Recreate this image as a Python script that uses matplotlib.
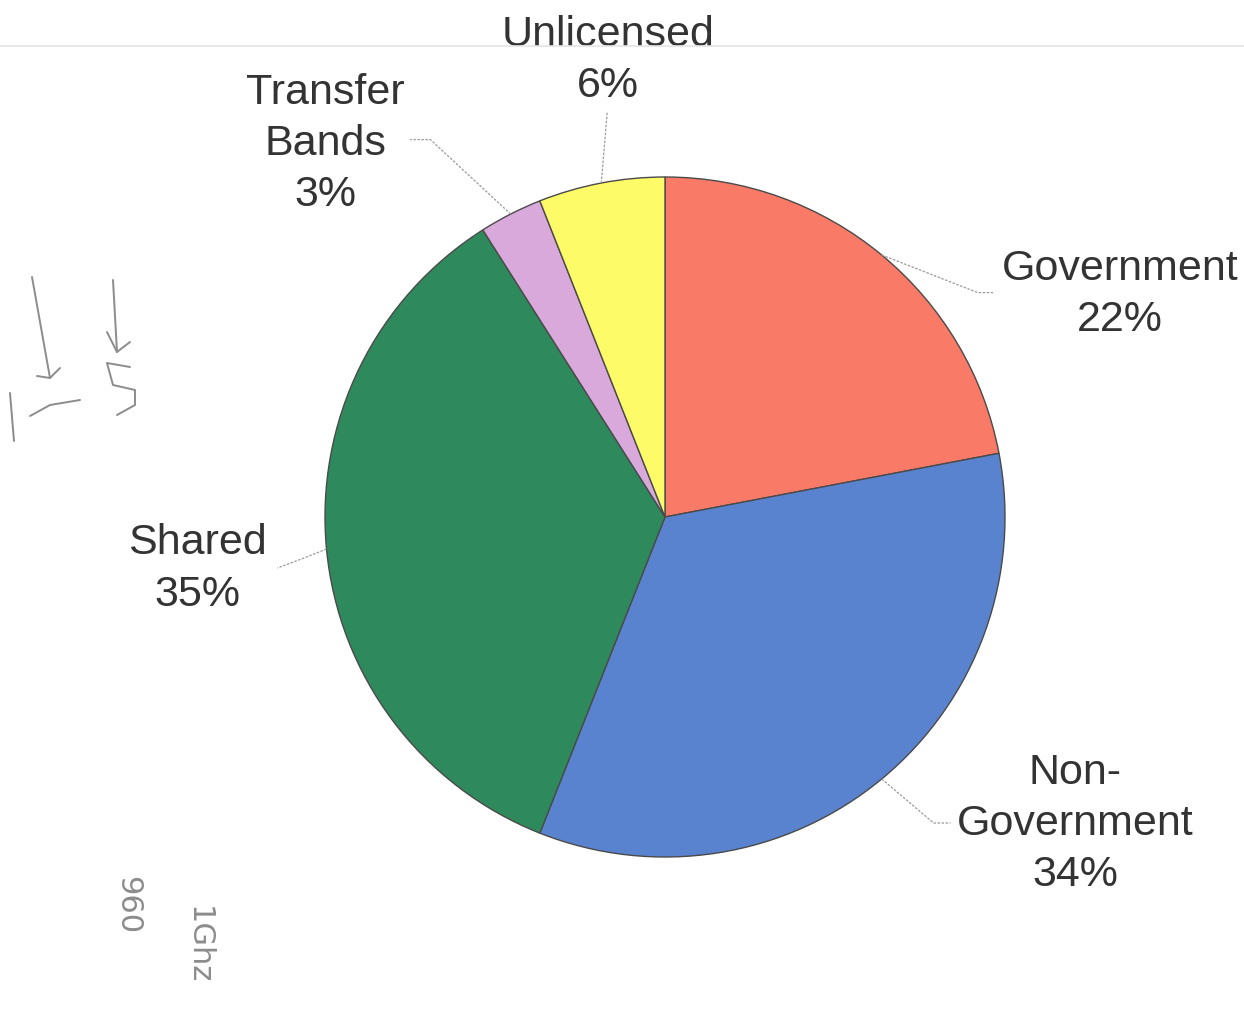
import numpy as np
import matplotlib
matplotlib.use("Agg")
import matplotlib.pyplot as plt

# Spectrum allocation shares (percent), clockwise from 12 o'clock
categories = ["Government", "Non-\nGovernment", "Shared", "Transfer\nBands", "Unlicensed"]
shares = [22, 34, 35, 3, 6]
colors = ["#FA7A68", "#5A83CF", "#2E8A5C", "#D9A9DC", "#FDFB68"]

# Label anchor (data units, pie radius = 1) and elbow/end of each leader line
label_pos = [(1.338, 0.655), (1.206, -0.903), (-1.374, -0.153), (-1.0, 1.097), (-0.168, 1.343)]
elbows = [(0.92, 0.66), (0.79, -0.90), (-1.06, -0.12), (-0.69, 1.11), (-0.17, 1.19)]
ends = [(0.97, 0.66), (0.84, -0.90), (-1.14, -0.15), (-0.75, 1.11), (-0.17, 1.19)]

W, H = 1244, 1013
fig = plt.figure(figsize=(W / 100, H / 100), dpi=100)
fig.patch.set_facecolor("white")

cx, cy, r = 665, 517, 340
ax = fig.add_axes([(cx - r) / W, (H - cy - r) / H, 2 * r / W, 2 * r / H])

wedges, _ = ax.pie(shares, colors=colors, startangle=90, counterclock=False, radius=1,
                   wedgeprops=dict(edgecolor="#4a4a4a", linewidth=1.0))
ax.set_xlim(-1, 1)
ax.set_ylim(-1, 1)
ax.set_aspect("equal")
ax.axis("off")

font = ["Liberation Sans", "DejaVu Sans"]
for w, lab, val, pos, el, en in zip(wedges, categories, shares, label_pos, elbows, ends):
    mid = np.deg2rad((w.theta1 + w.theta2) / 2)
    p0 = (np.cos(mid), np.sin(mid))
    ax.plot([p0[0], el[0], en[0]], [p0[1], el[1], en[1]], color="#9a9a9a",
            lw=0.9, ls=(0, (2, 1.2)), clip_on=False, zorder=1)
    ax.text(pos[0], pos[1], f"{lab}\n{val}%", ha="center", va="center",
            fontsize=31, color="#333333", family=font, linespacing=1.36,
            clip_on=False)

# faint rule across the top of the page
fig.add_artist(plt.Line2D([0, 1], [1 - 46 / H, 1 - 46 / H], color="#e4e4e4", lw=1.2))

# pencil notes in the margin
pencil = "#8c8c8c"
def stroke(xs, ys):
    fig.add_artist(plt.Line2D([x / W for x in xs], [1 - y / H for y in ys],
                              color=pencil, lw=1.4, solid_capstyle="round"))

stroke([32, 50], [277, 378])
stroke([37, 50, 60], [376, 378, 368])
stroke([113, 117], [280, 352])
stroke([107, 117, 130], [332, 352, 342])
stroke([10, 14], [393, 441])
stroke([30, 50, 80], [416, 405, 400])
stroke([130, 107, 113, 135, 135, 117], [367, 363, 385, 390, 405, 415])
fig.text(128 / W, 1 - 905 / H, "960", rotation=-90, fontsize=22, color=pencil,
         ha="center", va="center")
fig.text(198 / W, 1 - 945 / H, "1Ghz", rotation=-90, fontsize=22, color=pencil,
         ha="center", va="center")

fig.savefig("out.png", dpi=100, facecolor="white")
